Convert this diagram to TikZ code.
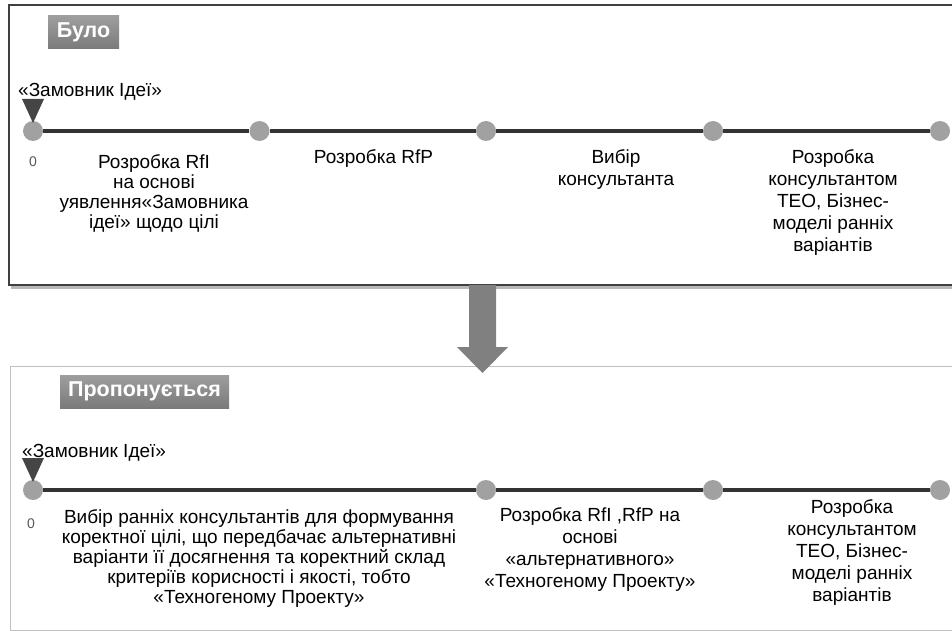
\documentclass[tikz,border=0pt]{standalone}
\usepackage{fontspec}
\setmainfont{Liberation Sans}
\tikzset{
  tldot/.style={circle,fill=black!37,inner sep=0pt,minimum size=20pt},
  tlline/.style={draw=black!80,line width=3.2pt},
  stagetext/.style={align=center,inner sep=0pt,anchor=north,font=\fontsize{19}{22}\selectfont},
  tightstage/.style={stagetext,font=\fontsize{19}{20}\selectfont},
  headtag/.style={top color=black!38,bottom color=black!52,text=white,
    font=\fontsize{21.5}{24}\selectfont\bfseries,minimum height=33pt,inner sep=0pt},
  clienttext/.style={inner sep=0pt,anchor=base west,font=\fontsize{19}{22}\selectfont},
  zerotext/.style={inner sep=0pt,anchor=base,text=black!65,font=\fontsize{14}{16}\selectfont},
  marker/.style={fill=black!73}
}
\begin{document}
\begin{tikzpicture}[x=1pt,y=-1pt]
\useasboundingbox (0,0) rectangle (952,631);
\fill[black!28] (11,8) rectangle (972,289);
\draw[black!75,line width=1.2pt,fill=white] (9,5) rectangle (970,285);
\draw[black!25,line width=1pt,fill=white] (10,366) rectangle (970,630);
\node[headtag,minimum width=71pt] (was) at (83.5,32.5) {Було};
\node[headtag,minimum width=169pt] (now) at (144.5,391.5) {Пропонується};

\foreach \x [count=\i] in {33,259.5,486,713,940}
  \node[tldot] (a\i) at (\x,131) {};
\draw[tlline] (a1) -- (a2) -- (a3) -- (a4) -- (a5);
\fill[marker] ([shift={(-11,-32)}]a1.center) -- ([shift={(11,-32)}]a1.center) -- ([shift={(0,-8)}]a1.center) -- cycle;
\node[clienttext] (c1) at (18,97) {«Замовник Ідеї»};
\node[zerotext] (z1) at (33,167) {0};
\node[tightstage] (s1) at (154,154.5) {Розробка RfI\\на основі\\уявлення«Замовника\\ідеї» щодо цілі};
\node[stagetext] (s2) at (373.5,149.5) {Розробка RfP};
\node[stagetext] (s3) at (616,149.5) {Вибір\\консультанта};
\node[stagetext] (s4) at (833,149.5) {Розробка\\консультантом\\ТЕО, Бізнес-\\моделі ранніх\\варіантів};

\foreach \x [count=\i] in {33,486,713,940}
  \node[tldot] (b\i) at (\x,490) {};
\draw[tlline] (b1) -- (b2) -- (b3) -- (b4);
\fill[marker] ([shift={(-11,-32)}]b1.center) -- ([shift={(11,-32)}]b1.center) -- ([shift={(0,-8)}]b1.center) -- cycle;
\node[clienttext] (c2) at (22,457) {«Замовник Ідеї»};
\node[zerotext] (z2) at (31,528) {0};
\node[tightstage] (t1) at (259,509.5) {Вибір ранніх консультантів для формування\\коректної цілі, що передбачає альтернативні\\варіанти її досягнення та коректний склад\\критеріїв корисності і якості, тобто\\«Техногеному Проекту»};
\node[stagetext] (t2) at (590,507.5) {Розробка RfI ,RfP на\\основі\\«альтернативного»\\«Техногеному Проекту»};
\node[stagetext] (t3) at (852,499.5) {Розробка\\консультантом\\ТЕО, Бізнес-\\моделі ранніх\\варіантів};

\fill[black!50] (469,285) -- (496,285) -- (496,347) -- (508,347) -- (482.5,373) -- (457,347) -- (469,347) -- cycle;
\end{tikzpicture}
\end{document}
